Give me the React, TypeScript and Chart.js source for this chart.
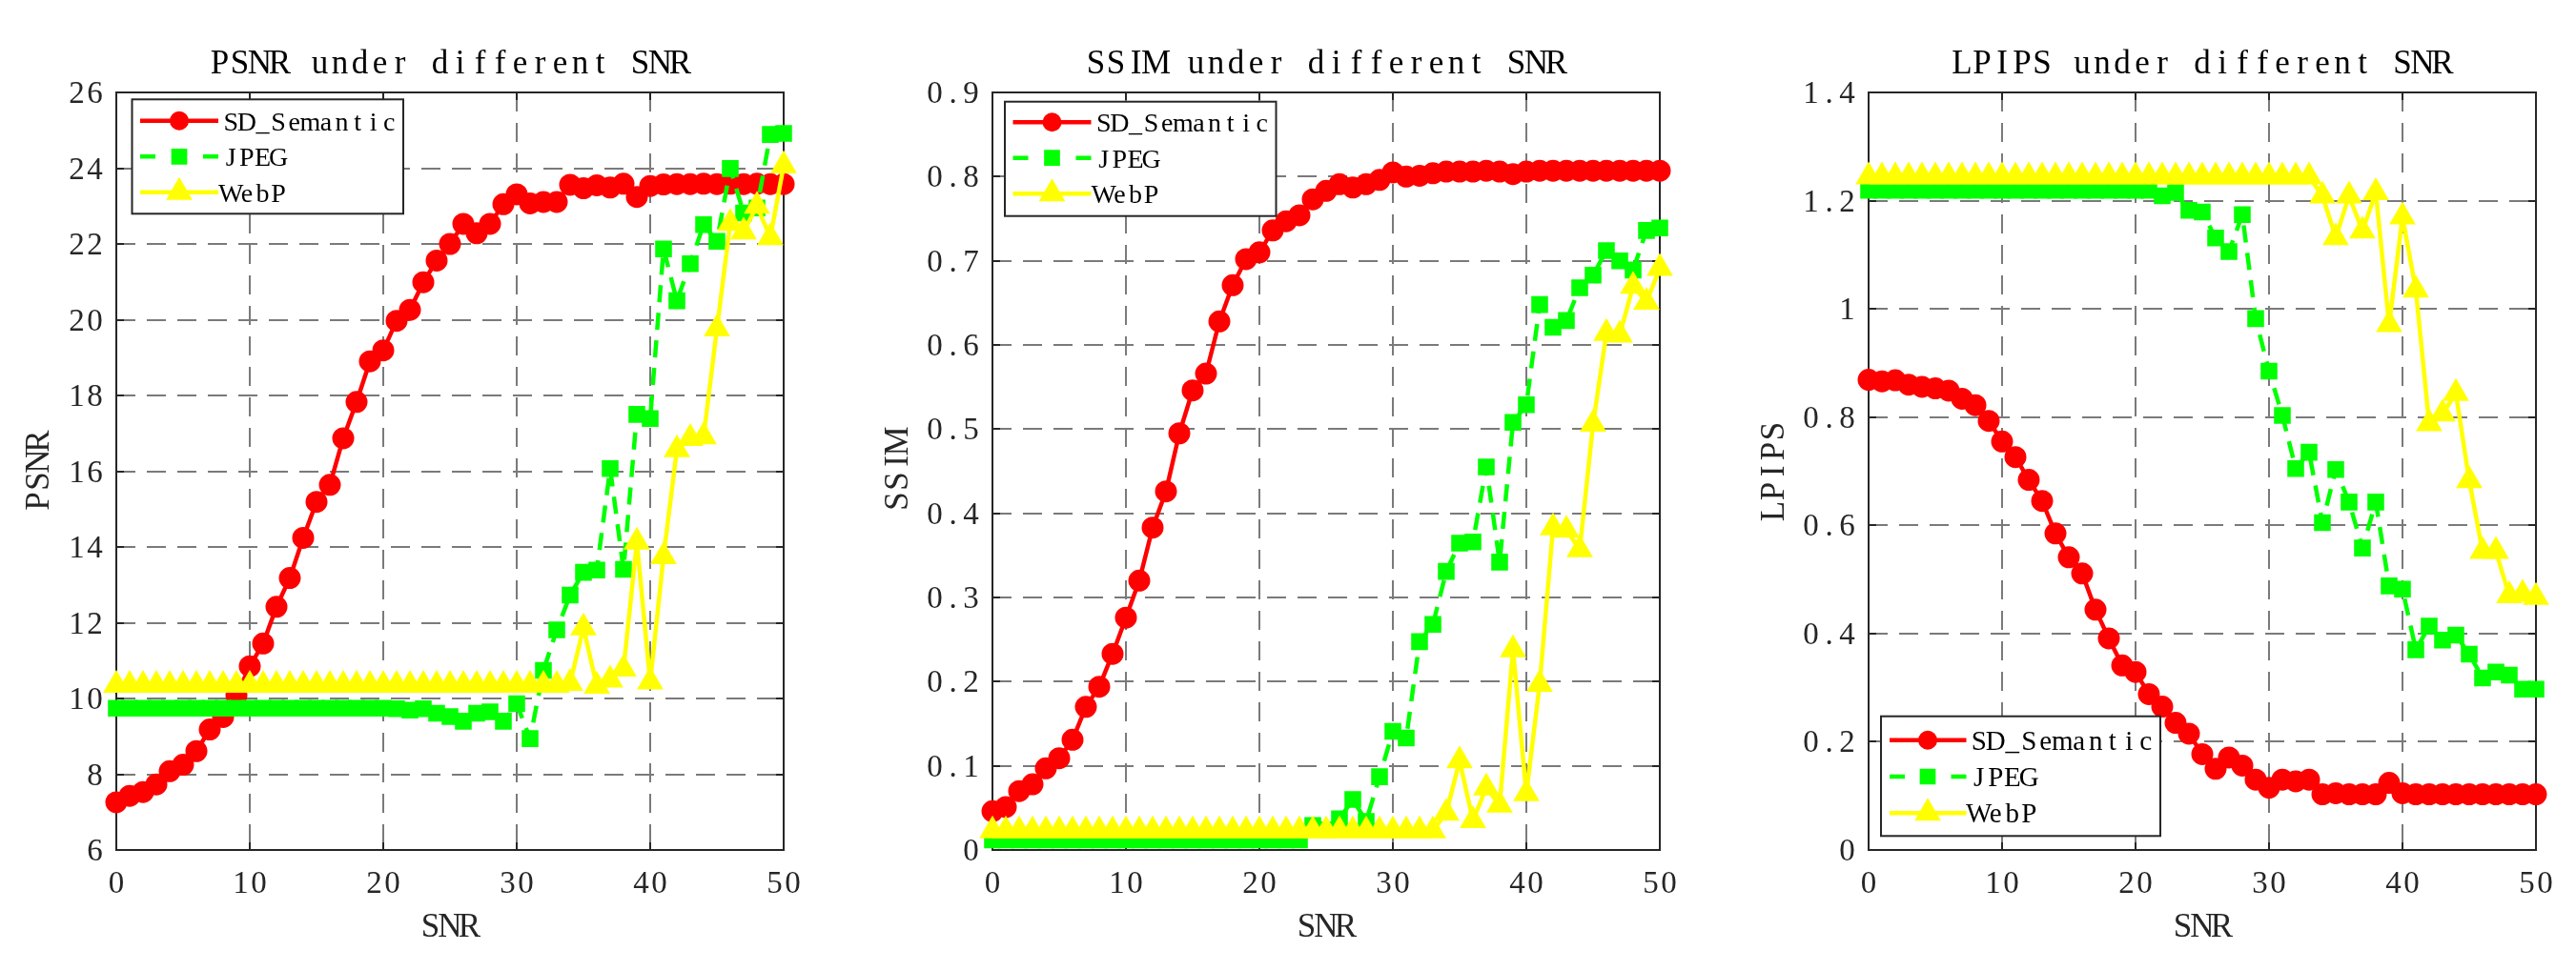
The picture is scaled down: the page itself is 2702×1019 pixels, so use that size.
import React, { useEffect, useRef } from "react";
import { Chart, registerables } from "chart.js";

Chart.register(...registerables);

// ---------------- DATA ----------------
const SNR = [0, 1, 2, 3, 4, 5, 6, 7, 8, 9, 10, 11, 12, 13, 14, 15, 16, 17, 18, 19, 20, 21, 22, 23, 24, 25, 26, 27, 28, 29, 30, 31, 32, 33, 34, 35, 36, 37, 38, 39, 40, 41, 42, 43, 44, 45, 46, 47, 48, 49, 50];

const SERIES_NAMES = ["SD_Semantic", "JPEG", "WebP"];

const PSNR_SD = [7.26, 7.43, 7.53, 7.73, 8.08, 8.25, 8.61, 9.18, 9.51, 10.08, 10.85, 11.45, 12.42, 13.18, 14.24, 15.19, 15.64, 16.87, 17.83, 18.9, 19.19, 19.97, 20.26, 20.99, 21.56, 22.0, 22.53, 22.28, 22.53, 23.05, 23.31, 23.07, 23.11, 23.11, 23.56, 23.47, 23.55, 23.49, 23.59, 23.24, 23.53, 23.57, 23.58, 23.58, 23.59, 23.58, 23.59, 23.58, 23.59, 23.58, 23.58];
const PSNR_JPEG = [9.74, 9.74, 9.74, 9.74, 9.74, 9.74, 9.74, 9.74, 9.74, 9.74, 9.74, 9.74, 9.74, 9.74, 9.74, 9.74, 9.74, 9.74, 9.74, 9.74, 9.74, 9.73, 9.69, 9.73, 9.61, 9.52, 9.4, 9.61, 9.65, 9.4, 9.86, 8.94, 10.74, 11.81, 12.73, 13.33, 13.39, 16.07, 13.41, 17.5, 17.39, 21.87, 20.5, 21.48, 22.51, 22.07, 23.99, 22.82, 22.95, 24.89, 24.92];
const PSNR_WEBP = [10.35, 10.35, 10.35, 10.35, 10.35, 10.35, 10.35, 10.35, 10.35, 10.35, 10.35, 10.35, 10.35, 10.35, 10.35, 10.35, 10.35, 10.35, 10.35, 10.35, 10.35, 10.35, 10.35, 10.35, 10.35, 10.35, 10.35, 10.35, 10.35, 10.35, 10.35, 10.35, 10.35, 10.35, 10.4, 11.87, 10.33, 10.49, 10.78, 14.13, 10.44, 13.75, 16.57, 16.87, 16.91, 19.76, 22.55, 22.32, 23.0, 22.17, 24.07];

const SSIM_SD = [0.046, 0.051, 0.07, 0.078, 0.097, 0.109, 0.131, 0.17, 0.194, 0.233, 0.276, 0.32, 0.383, 0.426, 0.495, 0.546, 0.566, 0.628, 0.671, 0.702, 0.71, 0.736, 0.747, 0.754, 0.773, 0.783, 0.791, 0.787, 0.791, 0.796, 0.805, 0.8, 0.801, 0.804, 0.806, 0.806, 0.806, 0.807, 0.806, 0.803, 0.806, 0.807, 0.807, 0.807, 0.807, 0.807, 0.807, 0.807, 0.807, 0.807, 0.807];
const SSIM_JPEG = [0.012, 0.012, 0.012, 0.012, 0.012, 0.012, 0.012, 0.012, 0.012, 0.012, 0.012, 0.012, 0.012, 0.012, 0.012, 0.012, 0.012, 0.012, 0.012, 0.012, 0.012, 0.012, 0.012, 0.012, 0.029, 0.024, 0.037, 0.06, 0.034, 0.087, 0.141, 0.133, 0.2475, 0.268, 0.331, 0.3645, 0.366, 0.455, 0.342, 0.508, 0.529, 0.648, 0.621, 0.629, 0.668, 0.683, 0.712, 0.7, 0.689, 0.736, 0.739];
const SSIM_WEBP = [0.023, 0.023, 0.023, 0.023, 0.023, 0.023, 0.023, 0.023, 0.023, 0.023, 0.023, 0.023, 0.023, 0.023, 0.023, 0.023, 0.023, 0.023, 0.023, 0.023, 0.023, 0.023, 0.023, 0.023, 0.023, 0.023, 0.023, 0.023, 0.023, 0.023, 0.023, 0.023, 0.023, 0.023, 0.044, 0.106, 0.035, 0.074, 0.0535, 0.238, 0.067, 0.197, 0.383, 0.38, 0.357, 0.506, 0.614, 0.612, 0.67, 0.651, 0.691];

const LPIPS_SD = [0.869, 0.866, 0.868, 0.86, 0.856, 0.853, 0.849, 0.834, 0.822, 0.793, 0.755, 0.726, 0.684, 0.645, 0.585, 0.541, 0.511, 0.444, 0.391, 0.341, 0.329, 0.288, 0.265, 0.235, 0.215, 0.177, 0.15, 0.171, 0.156, 0.13, 0.115, 0.13, 0.127, 0.13, 0.103, 0.105, 0.103, 0.103, 0.103, 0.124, 0.105, 0.103, 0.103, 0.103, 0.103, 0.103, 0.103, 0.103, 0.103, 0.103, 0.103];
const LPIPS_JPEG = [1.219, 1.219, 1.219, 1.219, 1.219, 1.219, 1.219, 1.219, 1.219, 1.219, 1.219, 1.219, 1.219, 1.219, 1.219, 1.219, 1.219, 1.219, 1.219, 1.219, 1.219, 1.219, 1.209, 1.215, 1.182, 1.179, 1.131, 1.106, 1.174, 0.982, 0.885, 0.803, 0.705, 0.735, 0.605, 0.703, 0.643, 0.558, 0.643, 0.488, 0.482, 0.37, 0.414, 0.388, 0.397, 0.362, 0.318, 0.329, 0.323, 0.297, 0.297];
const LPIPS_WEBP = [1.244, 1.244, 1.244, 1.244, 1.244, 1.244, 1.244, 1.244, 1.244, 1.244, 1.244, 1.244, 1.244, 1.244, 1.244, 1.244, 1.244, 1.244, 1.244, 1.244, 1.244, 1.244, 1.244, 1.244, 1.244, 1.244, 1.244, 1.244, 1.244, 1.244, 1.244, 1.244, 1.244, 1.244, 1.209, 1.132, 1.209, 1.144, 1.215, 0.971, 1.17, 1.035, 0.788, 0.806, 0.844, 0.683, 0.552, 0.552, 0.47, 0.473, 0.467];

const X_TICKS = [0, 10, 20, 30, 40, 50];
const PSNR_TICKS = [6, 8, 10, 12, 14, 16, 18, 20, 22, 24, 26];
const SSIM_TICKS = [0, 0.1, 0.2, 0.3, 0.4, 0.5, 0.6, 0.7, 0.8, 0.9];
const LPIPS_TICKS = [0, 0.2, 0.4, 0.6, 0.8, 1, 1.2, 1.4];

// ---------------- STYLE ----------------
const FONT = "'Liberation Serif', 'DejaVu Serif', serif";
const COLORS = ["#ff0000", "#00ff00", "#ffff00"];
const STYLES = ["circle", "rect", "triangle"];
const RADII = [10.5, 11, 14];
const LEG_RADII = [9, 10.4, 14];
const DASHES: number[][] = [[], [18, 11], []];
const AXIS_COLOR = "#262626";
const GRID_COLOR = "#7a7a7a";

type Panel = {
  title: string;
  yLabel: string;
  yTicks: number[];
  series: number[][];
  canvasLeft: number;
  canvasWidth: number;
  padRight: number;
  yLabelOff: number;
  legend: { left: number; top?: number; bottom?: number; w: number; h: number; rows: number[]; lineFrom: number; lineTo: number; mark: number; text: number; font: number; adv: number };
};

const PANELS: Panel[] = [
  {
    title: "PSNR under different SNR",
    yLabel: "PSNR",
    yTicks: PSNR_TICKS,
    series: [PSNR_SD, PSNR_JPEG, PSNR_WEBP],
    canvasLeft: 0,
    canvasWidth: 872,
    padRight: 50,
    yLabelOff: 71.5,
    legend: { left: 16.5, top: 7.3, w: 284.5, h: 120, rows: [22.4, 60, 97.4], lineFrom: 8.5, lineTo: 90.5, mark: 49.5, text: 95.5, font: 28, adv: 16.6 },
  },
  {
    title: "SSIM under different SNR",
    yLabel: "SSIM",
    yTicks: SSIM_TICKS,
    series: [SSIM_SD, SSIM_JPEG, SSIM_WEBP],
    canvasLeft: 919,
    canvasWidth: 872,
    padRight: 50,
    yLabelOff: 89,
    legend: { left: 13, top: 9.7, w: 284.5, h: 120, rows: [21.6, 59, 96.6], lineFrom: 8.5, lineTo: 90.5, mark: 49.5, text: 95.5, font: 28, adv: 16.6 },
  },
  {
    title: "LPIPS under different SNR",
    yLabel: "LPIPS",
    yTicks: LPIPS_TICKS,
    series: [LPIPS_SD, LPIPS_JPEG, LPIPS_WEBP],
    canvasLeft: 1838,
    canvasWidth: 852,
    padRight: 30,
    yLabelOff: 89,
    legend: { left: 13, bottom: 14.7, w: 293, h: 125.6, rows: [25, 63.3, 101.6], lineFrom: 9, lineTo: 89.5, mark: 49, text: 94, font: 29, adv: 17.5 },
  },
];

// draw a string with a fixed advance per character (monospaced look)
function drawMono(ctx: CanvasRenderingContext2D, text: string, x: number, y: number, adv: number, align: "left" | "center" | "right") {
  const total = text.length * adv;
  const start = align === "left" ? x : align === "center" ? x - total / 2 : x - total;
  ctx.save();
  ctx.textAlign = "center";
  for (let i = 0; i < text.length; i++) {
    ctx.fillText(text[i], start + adv * (i + 0.5), y);
  }
  ctx.restore();
}

function drawMarker(ctx: CanvasRenderingContext2D, style: string, x: number, y: number, r: number, color: string) {
  ctx.save();
  ctx.fillStyle = color;
  ctx.strokeStyle = color;
  ctx.lineWidth = 2;
  ctx.setLineDash([]);
  ctx.beginPath();
  if (style === "circle") {
    ctx.arc(x, y, r, 0, Math.PI * 2);
  } else if (style === "rect") {
    const s = Math.SQRT1_2 * r;
    ctx.rect(x - s, y - s, 2 * s, 2 * s);
  } else {
    let rad = 0;
    const third = (2 * Math.PI) / 3;
    ctx.moveTo(x + Math.sin(rad) * r, y - Math.cos(rad) * r);
    rad += third;
    ctx.lineTo(x + Math.sin(rad) * r, y - Math.cos(rad) * r);
    rad += third;
    ctx.lineTo(x + Math.sin(rad) * r, y - Math.cos(rad) * r);
    ctx.closePath();
  }
  ctx.fill();
  ctx.stroke();
  ctx.restore();
}

function PanelChart({ p }: { p: Panel }) {
  const ref = useRef<HTMLCanvasElement | null>(null);

  useEffect(() => {
    const canvas = ref.current;
    if (!canvas) return;
    const yMin = p.yTicks[0];
    const yMax = p.yTicks[p.yTicks.length - 1];

    const decor = {
      id: "decor",
      beforeDatasetsDraw(chart: any) {
        const { ctx, chartArea: a, scales } = chart;
        ctx.save();
        ctx.strokeStyle = AXIS_COLOR;
        ctx.lineWidth = 2;
        ctx.setLineDash([]);
        const tl = 8;
        ctx.beginPath();
        X_TICKS.forEach((v) => {
          const px = Math.round(scales.x.getPixelForValue(v));
          ctx.moveTo(px, a.bottom);
          ctx.lineTo(px, a.bottom - tl);
          ctx.moveTo(px, a.top);
          ctx.lineTo(px, a.top + tl);
        });
        p.yTicks.forEach((v) => {
          const py = Math.round(scales.y.getPixelForValue(v));
          ctx.moveTo(a.left, py);
          ctx.lineTo(a.left + tl, py);
          ctx.moveTo(a.right, py);
          ctx.lineTo(a.right - tl, py);
        });
        ctx.stroke();
        ctx.strokeRect(a.left, a.top, a.right - a.left, a.bottom - a.top);
        ctx.restore();
      },
      afterDraw(chart: any) {
        const { ctx, chartArea: a, scales } = chart;
        const cx = (a.left + a.right) / 2;
        const cy = (a.top + a.bottom) / 2;
        ctx.save();
        ctx.textBaseline = "alphabetic";

        // tick labels
        ctx.fillStyle = AXIS_COLOR;
        ctx.font = `33px ${FONT}`;
        X_TICKS.forEach((v) => {
          drawMono(ctx, String(v), scales.x.getPixelForValue(v), 937, 19, "center");
        });
        p.yTicks.forEach((v) => {
          drawMono(ctx, String(v), a.left - 13, scales.y.getPixelForValue(v) + 11, 19, "right");
        });

        // titles
        ctx.fillStyle = "#000000";
        ctx.font = `35px ${FONT}`;
        drawMono(ctx, p.title, cx, 77, 21, "center");
        ctx.fillStyle = AXIS_COLOR;
        drawMono(ctx, "SNR", cx, 983, 20.5, "center");
        ctx.save();
        ctx.translate(a.left - p.yLabelOff, cy);
        ctx.rotate(-Math.PI / 2);
        drawMono(ctx, p.yLabel, 0, 0, 21, "center");
        ctx.restore();

        // legend
        const L = p.legend;
        const bx = a.left + L.left;
        const by = L.top !== undefined ? a.top + L.top : a.bottom - (L.bottom as number) - L.h;
        ctx.fillStyle = "#ffffff";
        ctx.fillRect(bx, by, L.w, L.h);
        ctx.strokeStyle = AXIS_COLOR;
        ctx.lineWidth = 2;
        ctx.setLineDash([]);
        ctx.strokeRect(bx, by, L.w, L.h);
        SERIES_NAMES.forEach((name, k) => {
          const ry = by + L.rows[k];
          const x0 = bx + L.lineFrom;
          const x1 = bx + L.lineTo;
          ctx.strokeStyle = COLORS[k];
          ctx.lineWidth = 4.5;
          ctx.beginPath();
          if (DASHES[k].length) {
            ctx.moveTo(x0, ry);
            ctx.lineTo(x0 + 16, ry);
            ctx.moveTo(x1 - 16, ry);
            ctx.lineTo(x1, ry);
          } else {
            ctx.moveTo(x0, ry);
            ctx.lineTo(x1, ry);
          }
          ctx.stroke();
          drawMarker(ctx, STYLES[k], bx + L.mark, ry, LEG_RADII[k], COLORS[k]);
          ctx.fillStyle = "#000000";
          ctx.font = `${L.font}px ${FONT}`;
          drawMono(ctx, name, bx + L.text, ry + 9.8, L.adv, "left");
        });
        ctx.restore();
      },
    };

    const chart = new Chart(canvas, {
      type: "line",
      data: {
        datasets: p.series.map((arr, k) => ({
          label: SERIES_NAMES[k],
          data: SNR.map((x, i) => ({ x, y: arr[i] })),
          borderColor: COLORS[k],
          backgroundColor: COLORS[k],
          borderWidth: 4.5,
          borderDash: DASHES[k],
          borderJoinStyle: "round" as const,
          pointStyle: STYLES[k] as any,
          pointRadius: RADII[k],
          pointHoverRadius: RADII[k],
          pointBorderWidth: 2,
          pointBackgroundColor: COLORS[k],
          pointBorderColor: COLORS[k],
          tension: 0,
          clip: false as any,
          order: 3 - k,
        })),
      },
      options: {
        responsive: false,
        animation: false,
        events: [],
        layout: { padding: { top: 97, right: p.padRight, bottom: 0, left: 0 } },
        plugins: {
          legend: { display: false },
          title: { display: false },
          tooltip: { enabled: false },
        },
        scales: {
          x: {
            type: "linear",
            min: 0,
            max: 50,
            afterBuildTicks: (s: any) => {
              s.ticks = X_TICKS.map((v) => ({ value: v }));
            },
            afterFit: (s: any) => {
              s.height = 127;
            },
            ticks: { display: false, autoSkip: false },
            grid: { color: GRID_COLOR, lineWidth: 2, drawTicks: false },
            border: { display: false, dash: [20, 12] },
          },
          y: {
            type: "linear",
            min: yMin,
            max: yMax,
            afterBuildTicks: (s: any) => {
              s.ticks = p.yTicks.map((v) => ({ value: v }));
            },
            afterFit: (s: any) => {
              s.width = 122;
            },
            ticks: { display: false, autoSkip: false },
            grid: { color: GRID_COLOR, lineWidth: 2, drawTicks: false },
            border: { display: false, dash: [20, 12] },
          },
        },
      } as any,
      plugins: [decor],
    });
    return () => chart.destroy();
  }, [p]);

  return (
    <canvas
      ref={ref}
      width={p.canvasWidth}
      height={1019}
      style={{ position: "absolute", left: p.canvasLeft, top: 0, width: p.canvasWidth, height: 1019, display: "block" }}
    />
  );
}

export default function App() {
  return (
    <div style={{ position: "absolute", left: 0, top: 0, width: 2702, height: 1019, background: "#ffffff", overflow: "hidden" }}>
      {PANELS.map((p, i) => (
        <PanelChart key={i} p={p} />
      ))}
    </div>
  );
}
